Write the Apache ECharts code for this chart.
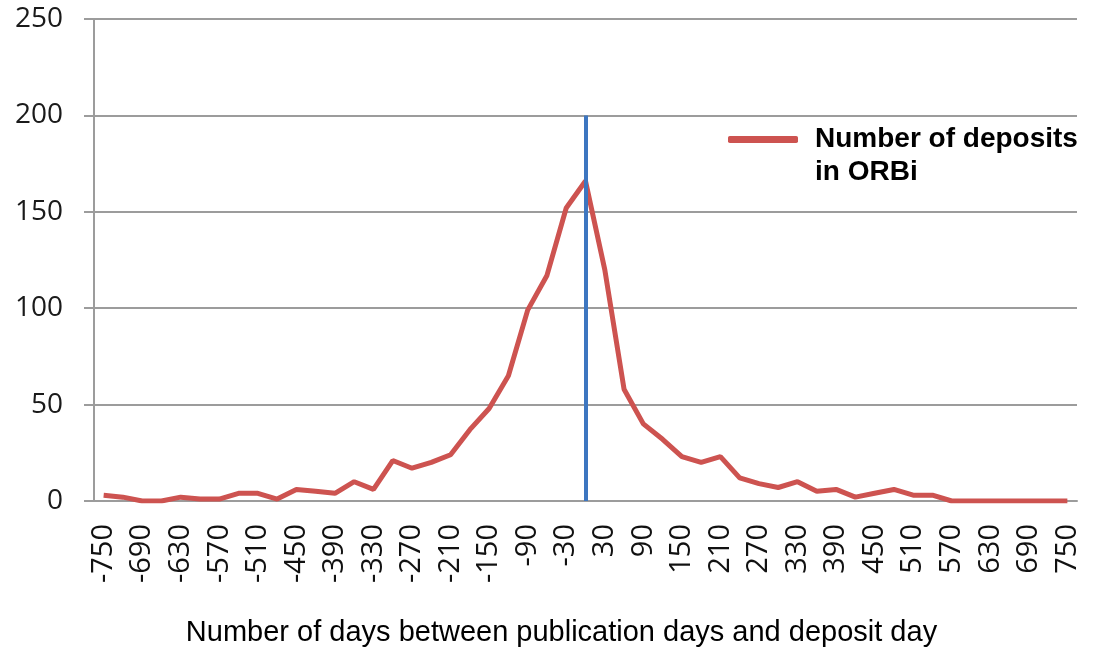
<!DOCTYPE html>
<html><head><meta charset="utf-8">
<script src="https://cdn.jsdelivr.net/npm/echarts@6/dist/echarts.min.js"></script>
<style>html,body{margin:0;padding:0;background:#fff}#c{width:1097px;height:649px}</style>
</head><body><div id="c"></div>
<script>
const days = [-750,-720,-690,-660,-630,-600,-570,-540,-510,-480,-450,-420,-390,-360,-330,-300,-270,-240,-210,-180,-150,-120,-90,-60,-30,0,30,60,90,120,150,180,210,240,270,300,330,360,390,420,450,480,510,540,570,600,630,660,690,720,750].map(String);
const deposits = [3,2,0,0,2,1,1,4,4,1,6,5,4,10,6,21,17,20,24,37,48,65,99,117,152,166,120,58,40,32,23,20,23,12,9,7,10,5,6,2,4,6,3,3,0,0,0,0,0,0,0];
const seriesName = 'Number of deposits in ORBi';
const yTicks = {min:0, max:250, interval:50};
const markDay = '0';
const markTop = 200;

const chart = echarts.init(document.getElementById('c'));
chart.setOption({
  animation:false,
  backgroundColor:'#fff',
  grid:{left:94, right:20, top:19, bottom:148, containLabel:false, outerBoundsMode:'none'},
  legend:{
    data:[seriesName], left:723, top:85, orient:'vertical',
    icon:'roundRect', itemWidth:70, itemHeight:7,
    formatter:()=>'\nNumber of deposits\nin ORBi',
    textStyle:{fontFamily:'Liberation Sans, Arial', fontWeight:'bold', fontSize:28, color:'#000', lineHeight:33, padding:[0,0,0,12]}
  },
  xAxis:{
    type:'category', data:days, boundaryGap:true,
    name:'Number of days between publication days and deposit day',
    nameLocation:'middle', nameGap:117,
    nameTextStyle:{fontFamily:'Liberation Sans, Arial', fontSize:29, color:'#000', padding:[0,48,0,0]},
    axisLine:{lineStyle:{color:'#9c9c9c', width:2}},
    axisTick:{interval:0, length:8, lineStyle:{color:'#9c9c9c', width:1.5}},
    axisLabel:{interval:1, rotate:90, margin:23, fontFamily:'Open Sans', fontSize:29, color:'#111'}
  },
  yAxis:{
    type:'value', min:yTicks.min, max:yTicks.max, interval:yTicks.interval,
    axisLine:{show:true, lineStyle:{color:'#9c9c9c', width:2}},
    axisTick:{show:true, length:10, lineStyle:{color:'#9c9c9c', width:2}},
    splitLine:{lineStyle:{color:'#9c9c9c', width:2}},
    axisLabel:{margin:31, fontFamily:'Open Sans', fontSize:28, color:'#1a1a1a'}
  },
  series:[
    {type:'line', name:'marker', data:[], z:1, silent:true,
     markLine:{symbol:'none', silent:true, label:{show:false},
       lineStyle:{color:'#3d76c0', width:4, type:'solid'},
       data:[[{coord:[markDay,0]},{coord:[markDay,markTop]}]]}},
    {type:'line', name:seriesName, data:deposits, z:3, showSymbol:false, symbol:'none',
     lineStyle:{color:'#cd5350', width:5}, itemStyle:{color:'#cd5350'}}
  ]
});
</script></body></html>
